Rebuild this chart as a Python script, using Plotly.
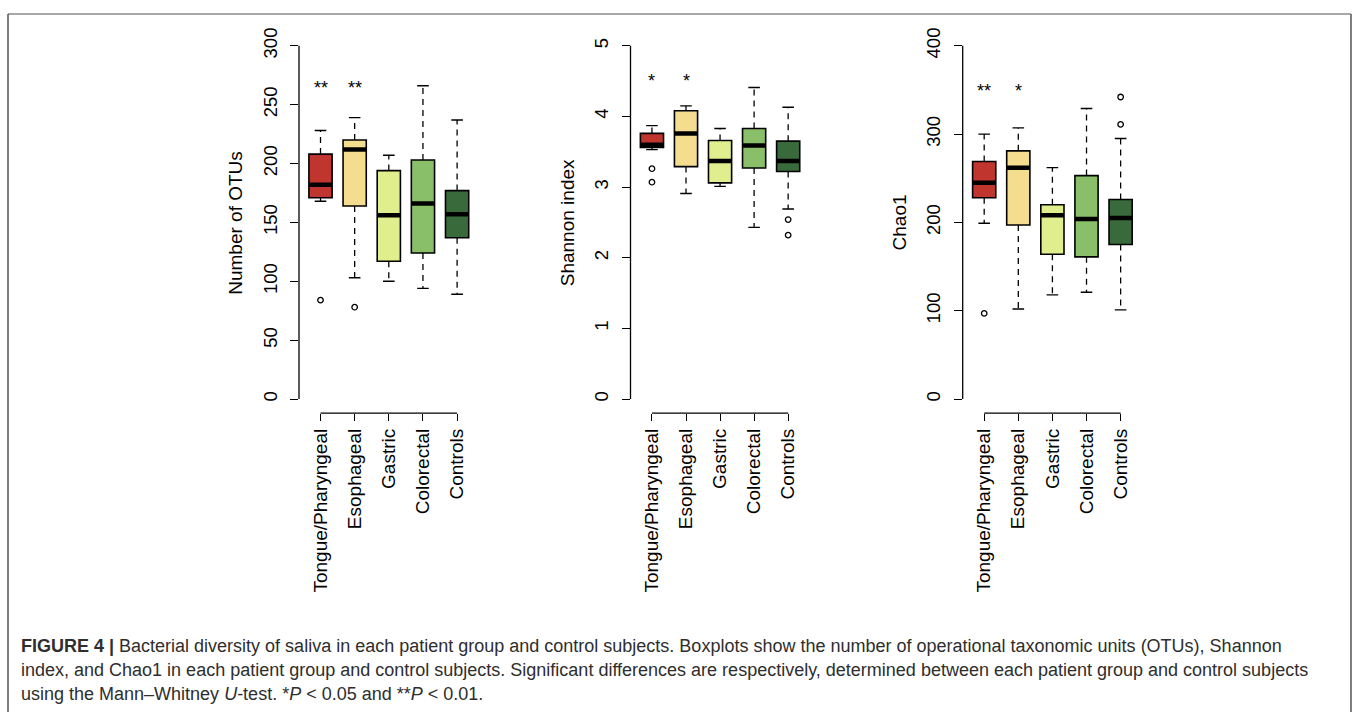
import plotly.graph_objects as go

W, H = 1357, 712

categories = ["Tongue/Pharyngeal", "Esophageal", "Gastric", "Colorectal", "Controls"]
colors = ["#C0352D", "#F5DD8F", "#E0EE8E", "#88BF68", "#396A3C"]

# Number of OTUs
otu_upper = [228, 239, 207, 266, 237]
otu_q3 = [208, 220, 194, 203, 177]
otu_median = [182, 212, 156, 166, 157]
otu_q1 = [171, 164, 117, 124, 137]
otu_lower = [168, 103, 100, 94, 89]
otu_outliers = [[84], [78], [], [], []]
otu_sig = ["**", "**", "", "", ""]

# Shannon index
shannon_upper = [3.87, 4.15, 3.83, 4.41, 4.13]
shannon_q3 = [3.76, 4.08, 3.66, 3.83, 3.65]
shannon_median = [3.60, 3.76, 3.37, 3.59, 3.37]
shannon_q1 = [3.56, 3.29, 3.06, 3.27, 3.22]
shannon_lower = [3.53, 2.91, 3.01, 2.43, 2.69]
shannon_outliers = [[3.26, 3.07], [], [], [], [2.54, 2.32]]
shannon_sig = ["*", "*", "", "", ""]

# Chao1
chao_upper = [300, 307, 262, 329, 295]
chao_q3 = [269, 281, 220, 253, 226]
chao_median = [245, 262, 208, 204, 205]
chao_q1 = [228, 197, 164, 161, 175]
chao_lower = [199, 102, 118, 121, 101]
chao_outliers = [[97], [], [], [], [311, 342]]
chao_sig = ["**", "*", "", "", ""]

otu_ticks = [0, 50, 100, 150, 200, 250, 300]
shannon_ticks = [0, 1, 2, 3, 4, 5]
chao_ticks = [0, 100, 200, 300, 400]

panels = [
    dict(title="Number of OTUs", upper=otu_upper, q3=otu_q3, med=otu_median, q1=otu_q1,
         lower=otu_lower, out=otu_outliers, sig=otu_sig, ticks=otu_ticks,
         yr=[-12, 312], sig_y=264, xpx=(299, 481)),
    dict(title="Shannon index", upper=shannon_upper, q3=shannon_q3, med=shannon_median,
         q1=shannon_q1, lower=shannon_lower, out=shannon_outliers, sig=shannon_sig,
         ticks=shannon_ticks, yr=[-0.2, 5.2], sig_y=4.5, xpx=(630.5, 812)),
    dict(title="Chao1", upper=chao_upper, q3=chao_q3, med=chao_median, q1=chao_q1,
         lower=chao_lower, out=chao_outliers, sig=chao_sig, ticks=chao_ticks,
         yr=[-16, 416], sig_y=349, xpx=(962.7, 1144.5)),
]


def PX(p):
    return p / W


def PY(p):
    return 1 - p / H


FONT = "Liberation Sans, Arial, sans-serif"
fig = go.Figure()
layout = dict(
    width=W, height=H, margin=dict(l=0, r=0, t=0, b=0),
    paper_bgcolor="white", plot_bgcolor="white", showlegend=False,
    font=dict(family=FONT, color="black"),
)
shapes = []
annotations = []
half = 0.34
cap = 0.17
ydom = [PY(411.5), PY(27.8)]

for k, p in enumerate(panels):
    sfx = "" if k == 0 else str(k + 1)
    xa, ya = "x" + sfx, "y" + sfx
    pos = list(range(1, len(categories) + 1))
    # boxes
    for i, c in enumerate(categories):
        fig.add_trace(go.Box(
            x=[pos[i]], q1=[p["q1"][i]], median=[p["med"][i]], q3=[p["q3"][i]],
            lowerfence=[p["q1"][i]], upperfence=[p["q3"][i]], width=2 * half,
            fillcolor=colors[i], line=dict(color="black", width=1.6),
            whiskerwidth=0, boxpoints=False, xaxis=xa, yaxis=ya, hoverinfo="skip"))
    # whiskers (dashed)
    wx, wy = [], []
    for i in range(len(categories)):
        wx += [pos[i], pos[i], None, pos[i], pos[i], None]
        wy += [p["q3"][i], p["upper"][i], None, p["q1"][i], p["lower"][i], None]
    fig.add_trace(go.Scatter(x=wx, y=wy, mode="lines", xaxis=xa, yaxis=ya,
                             line=dict(color="black", width=1.3, dash="6px,5px"),
                             hoverinfo="skip"))
    # caps
    cx, cy = [], []
    for i in range(len(categories)):
        for v in (p["upper"][i], p["lower"][i]):
            cx += [pos[i] - cap, pos[i] + cap, None]
            cy += [v, v, None]
    fig.add_trace(go.Scatter(x=cx, y=cy, mode="lines", xaxis=xa, yaxis=ya,
                             line=dict(color="black", width=1.4), hoverinfo="skip"))
    # medians
    mx, my = [], []
    for i in range(len(categories)):
        mx += [pos[i] - half, pos[i] + half, None]
        my += [p["med"][i], p["med"][i], None]
    fig.add_trace(go.Scatter(x=mx, y=my, mode="lines", xaxis=xa, yaxis=ya,
                             line=dict(color="black", width=4.5), hoverinfo="skip"))
    # outliers
    ox, oy = [], []
    for i in range(len(categories)):
        for v in p["out"][i]:
            ox.append(pos[i])
            oy.append(v)
    fig.add_trace(go.Scatter(x=ox, y=oy, mode="markers", xaxis=xa, yaxis=ya,
                             marker=dict(symbol="circle-open", size=5.5,
                                         line=dict(color="black", width=1.3), color="black"),
                             hoverinfo="skip"))
    # significance stars
    for i, s in enumerate(p["sig"]):
        if s:
            annotations.append(dict(x=pos[i], y=p["sig_y"], xref=xa, yref=ya, text=s,
                                    xanchor="center", yanchor="middle",
                                    showarrow=False, font=dict(size=18, family=FONT)))
    x0, x1 = p["xpx"]
    layout["xaxis" + sfx] = dict(
        domain=[PX(x0), PX(x1)], range=[0.37, 5.7], anchor=ya,
        tickmode="array", tickvals=pos, ticktext=categories, tickangle=-90,
        ticks="outside", ticklen=7, tickwidth=1.3, tickcolor="black",
        showline=False, showgrid=False, zeroline=False,
        tickfont=dict(size=19, family=FONT, color="black"))
    layout["yaxis" + sfx] = dict(
        domain=ydom, range=p["yr"], anchor=xa,
        tickmode="array", tickvals=p["ticks"], ticktext=[str(t) for t in p["ticks"]],
        tickangle=-90, ticks="outside", ticklen=8, tickwidth=1.3, tickcolor="black",
        ticklabelstandoff=6,
        showline=False, showgrid=False, zeroline=False,
        tickfont=dict(size=18.5, family=FONT, color="black"))
    # R-style axis lines (span first to last tick)
    shapes.append(dict(type="line", xref=xa + " domain", yref=ya, x0=0, x1=0,
                       y0=p["ticks"][0], y1=p["ticks"][-1],
                       line=dict(color="black", width=1.3)))
    shapes.append(dict(type="line", xref=xa, yref=ya + " domain", x0=pos[0], x1=pos[-1],
                       y0=0, y1=0, line=dict(color="black", width=1.3)))
    # axis title
    annotations.append(dict(x=PX(x0 - 63), y=PY(220), xref="paper", yref="paper",
                            xanchor="center", yanchor="middle",
                            text=p["title"], textangle=-90, showarrow=False,
                            font=dict(size=19, family=FONT, color="black")))

# figure frame
shapes.append(dict(type="line", xref="paper", yref="paper", x0=PX(8), x1=PX(1351),
                   y0=PY(10), y1=PY(10), line=dict(color="#8a8a8a", width=1.5)))
shapes.append(dict(type="line", xref="paper", yref="paper", x0=PX(8), x1=PX(8),
                   y0=PY(10), y1=PY(715), line=dict(color="#555555", width=1.5)))
shapes.append(dict(type="line", xref="paper", yref="paper", x0=PX(1351), x1=PX(1351),
                   y0=PY(10), y1=PY(715), line=dict(color="#555555", width=1.5)))

caption_lines = [
    "<b>FIGURE 4 |</b> Bacterial diversity of saliva in each patient group and control subjects. "
    "Boxplots show the number of operational taxonomic units (OTUs), Shannon",
    "index, and Chao1 in each patient group and control subjects. Significant differences are "
    "respectively, determined between each patient group and control subjects",
    "using the Mann–Whitney <i>U</i>-test. *<i>P</i> &lt; 0.05 and **<i>P</i> &lt; 0.01.",
]
for j, line in enumerate(caption_lines):
    annotations.append(dict(x=PX(19), y=PY(646 + 24 * j), xref="paper", yref="paper",
                            xanchor="left", yanchor="middle", text=line, showarrow=False,
                            font=dict(size=18, family=FONT, color="#2e2e2e")))

layout["shapes"] = shapes
layout["annotations"] = annotations
fig.update_layout(**layout)
fig.write_html("out.html")
